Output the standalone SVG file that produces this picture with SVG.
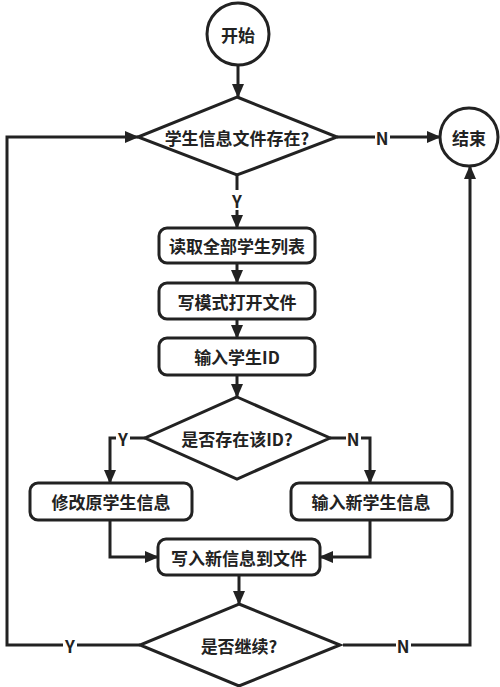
<svg xmlns="http://www.w3.org/2000/svg" width="500" height="687" viewBox="0 0 500 687">
<defs>
<style>
.shape{fill:#fff;stroke:#222;stroke-width:3}
.conn{fill:none;stroke:#222;stroke-width:3}
.t{font-family:"Noto Sans CJK SC","Noto Sans",sans-serif;font-size:17px;font-weight:bold;fill:#222;text-anchor:middle;dominant-baseline:central}
.lbl{fill:#fff;stroke:none}
</style>
<marker id="arr" markerUnits="userSpaceOnUse" markerWidth="14" markerHeight="12" viewBox="0 0 14 12" refX="13" refY="6" orient="auto">
<path d="M0,0 L14,6 L0,12 Z" fill="#222"/>
</marker>
</defs>
<rect width="500" height="687" fill="#fff"/>
<g id="connectors">
<line class="conn" x1="238" y1="66" x2="238" y2="97" marker-end="url(#arr)"/>
<line class="conn" x1="237" y1="175" x2="237" y2="228" marker-end="url(#arr)"/>
<line class="conn" x1="237" y1="263" x2="237" y2="283" marker-end="url(#arr)"/>
<line class="conn" x1="237" y1="319" x2="237" y2="338" marker-end="url(#arr)"/>
<line class="conn" x1="237" y1="375" x2="237" y2="397" marker-end="url(#arr)"/>
<polyline class="conn" points="145,438 110,438 110,483" marker-end="url(#arr)"/>
<polyline class="conn" points="330,438 370,438 370,483" marker-end="url(#arr)"/>
<polyline class="conn" points="110,520 110,557 158,557" marker-end="url(#arr)"/>
<polyline class="conn" points="370,520 370,557 320,557" marker-end="url(#arr)"/>
<line class="conn" x1="239" y1="575" x2="239" y2="604" marker-end="url(#arr)"/>
<polyline class="conn" points="140,645 7,645 7,137 138,137" marker-end="url(#arr)"/>
<polyline class="conn" points="343,645 470,645 470,166" marker-end="url(#arr)"/>
<line class="conn" x1="337" y1="137" x2="440" y2="137" marker-end="url(#arr)"/>
<rect class="lbl" x="230" y="190" width="14" height="20"/>
<text class="t" x="237" y="200">Y</text>
<rect class="lbl" x="375" y="127" width="15" height="20"/>
<text class="t" x="382" y="137">N</text>
<rect class="lbl" x="116" y="428" width="14" height="20"/>
<text class="t" x="123" y="438">Y</text>
<rect class="lbl" x="346" y="428" width="15" height="20"/>
<text class="t" x="353" y="438">N</text>
<rect class="lbl" x="63" y="635" width="14" height="20"/>
<text class="t" x="70" y="645">Y</text>
<rect class="lbl" x="396" y="635" width="15" height="20"/>
<text class="t" x="403" y="645">N</text>
</g>
<g id="start">
<circle class="shape" cx="238" cy="34" r="31"/>
<text class="t" x="238" y="34">开始</text>
</g>
<g id="fileExists">
<polygon class="shape" points="237,97 337,137 237,175 138,137"/>
<text class="t" x="237" y="137">学生信息文件存在?</text>
</g>
<g id="end">
<circle class="shape" cx="469" cy="137" r="29"/>
<text class="t" x="469" y="137">结束</text>
</g>
<g id="readAll">
<rect class="shape" x="159" y="228" width="156" height="35" rx="8"/>
<text class="t" x="237" y="245.5">读取全部学生列表</text>
</g>
<g id="openWrite">
<rect class="shape" x="159" y="283" width="156" height="36" rx="8"/>
<text class="t" x="237" y="301">写模式打开文件</text>
</g>
<g id="inputId">
<rect class="shape" x="159" y="338" width="156" height="37" rx="8"/>
<text class="t" x="237" y="356.5">输入学生ID</text>
</g>
<g id="idExists">
<polygon class="shape" points="237,397 330,438 237,479 145,438"/>
<text class="t" x="237" y="438">是否存在该ID?</text>
</g>
<g id="modify">
<rect class="shape" x="30" y="483" width="162" height="37" rx="8"/>
<text class="t" x="111" y="501.5">修改原学生信息</text>
</g>
<g id="inputNew">
<rect class="shape" x="291" y="483" width="161" height="37" rx="8"/>
<text class="t" x="371" y="501.5">输入新学生信息</text>
</g>
<g id="writeFile">
<rect class="shape" x="158" y="539" width="162" height="36" rx="8"/>
<text class="t" x="239" y="557">写入新信息到文件</text>
</g>
<g id="continue">
<polygon class="shape" points="239,604 340,645 239,686 140,645"/>
<text class="t" x="239" y="645">是否继续?</text>
</g>
</svg>
